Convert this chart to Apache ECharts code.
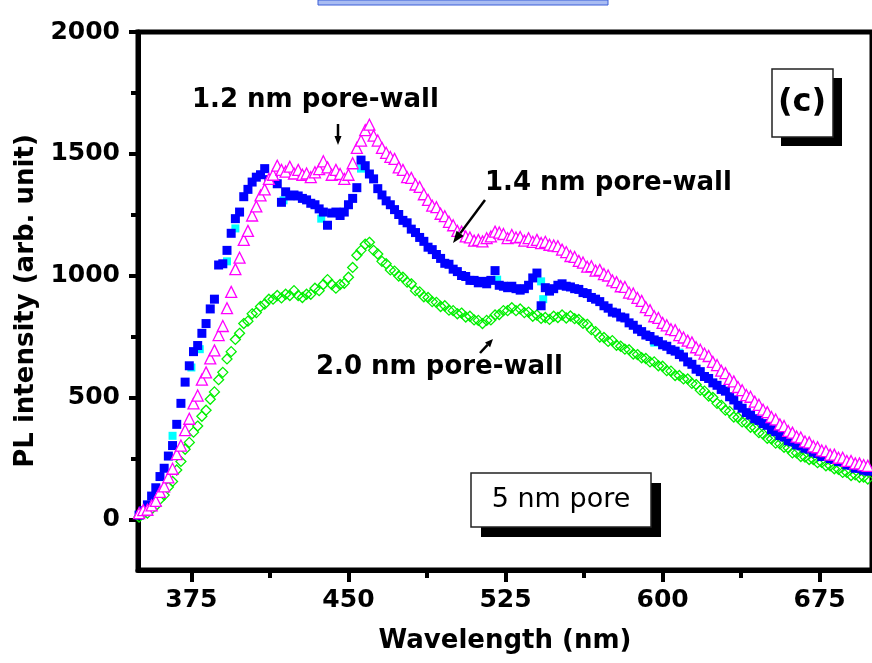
<!DOCTYPE html>
<html>
<head>
<meta charset="utf-8">
<title>PL intensity - 5 nm pore</title>
<script src="https://cdn.jsdelivr.net/npm/echarts@6/dist/echarts.min.js"></script>
<style>
  html, body { margin: 0; padding: 0; background: #fff; }
  #chart { width: 872px; height: 663px; }
</style>
</head>
<body>
<div id="chart"></div>
<script>
// sampled wavelengths (nm)
const wavelength = [
  350, 352, 354, 356, 358, 360, 362, 364, 366, 368,
  370, 372, 374, 376, 378, 380, 382, 384, 386, 388,
  390, 392, 394, 396, 398, 400, 402, 404, 406, 408,
  410, 412, 414, 416, 418, 420, 422, 424, 426, 428,
  430, 432, 434, 436, 438, 440, 442, 444, 446, 448,
  450, 452, 454, 456, 458, 460, 462, 464, 466, 468,
  470, 472, 474, 476, 478, 480, 482, 484, 486, 488,
  490, 492, 494, 496, 498, 500, 502, 504, 506, 508,
  510, 512, 514, 516, 518, 520, 522, 524, 526, 528,
  530, 532, 534, 536, 538, 540, 542, 544, 546, 548,
  550, 552, 554, 556, 558, 560, 562, 564, 566, 568,
  570, 572, 574, 576, 578, 580, 582, 584, 586, 588,
  590, 592, 594, 596, 598, 600, 602, 604, 606, 608,
  610, 612, 614, 616, 618, 620, 622, 624, 626, 628,
  630, 632, 634, 636, 638, 640, 642, 644, 646, 648,
  650, 652, 654, 656, 658, 660, 662, 664, 666, 668,
  670, 672, 674, 676, 678, 680, 682, 684, 686, 688,
  690, 692, 694, 696, 698
];

// 1.2 nm pore-wall (magenta open triangles)
const wall12 = [
  28, 40, 42, 60, 78, 115, 138, 175, 210, 270,
  305, 368, 415, 478, 510, 575, 605, 662, 695, 758,
  795, 868, 935, 1028, 1075, 1148, 1185, 1248, 1285, 1330,
  1355, 1398, 1415, 1452, 1435, 1428, 1448, 1420, 1435, 1415,
  1420, 1405, 1425, 1438, 1470, 1445, 1415, 1435, 1418, 1398,
  1415, 1462, 1525, 1555, 1598, 1620, 1575, 1555, 1525, 1505,
  1488, 1480, 1445, 1435, 1405, 1402, 1375, 1365, 1335, 1312,
  1288, 1282, 1255, 1245, 1222, 1208, 1185, 1182, 1162, 1158,
  1145, 1148, 1142, 1155, 1162, 1182, 1178, 1172, 1155, 1168,
  1158, 1160, 1145, 1155, 1140, 1148, 1135, 1140, 1128, 1125,
  1122, 1108, 1098, 1082, 1078, 1062, 1055, 1038, 1040, 1022,
  1025, 1008, 1002, 982, 975, 958, 955, 932, 928, 910,
  898, 872, 860, 835, 828, 808, 798, 782, 778, 758,
  748, 735, 728, 708, 698, 682, 672, 648, 635, 612,
  602, 578, 568, 545, 532, 512, 505, 485, 472, 452,
  442, 422, 412, 392, 385, 365, 358, 342, 338, 322,
  318, 302, 298, 285, 282, 268, 268, 255, 255, 242,
  242, 232, 232, 225, 222
];

// 1.4 nm pore-wall (blue filled squares)
const wall14 = [
  20, 38, 62, 98, 132, 178, 212, 262, 305, 392,
  478, 565, 632, 690, 715, 765, 805, 865, 905, 1045,
  1050, 1105, 1175, 1235, 1262, 1325, 1355, 1385, 1405, 1415,
  1440, 1395, 1392, 1378, 1302, 1345, 1328, 1332, 1328, 1318,
  1312, 1298, 1292, 1275, 1262, 1208, 1258, 1262, 1248, 1262,
  1292, 1318, 1362, 1475, 1452, 1418, 1398, 1358, 1332, 1308,
  1292, 1272, 1252, 1228, 1218, 1192, 1178, 1158, 1142, 1118,
  1108, 1088, 1072, 1052, 1048, 1028, 1018, 1002, 998, 982,
  982, 972, 978, 968, 982, 1022, 962, 958, 952, 958,
  948, 942, 948, 962, 992, 1012, 878, 952, 938, 948,
  962, 968, 958, 955, 948, 945, 932, 928, 912, 905,
  895, 878, 868, 852, 848, 832, 828, 808, 798, 782,
  772, 758, 752, 738, 732, 718, 712, 698, 692, 678,
  668, 648, 638, 618, 608, 588, 580, 562, 552, 535,
  528, 505, 492, 470, 458, 440, 430, 415, 408, 395,
  388, 370, 362, 346, 340, 325, 320, 308, 304, 294,
  290, 278, 272, 260, 264, 252, 248, 240, 238, 226,
  224, 212, 212, 204, 200
];

// 2.0 nm pore-wall (green open diamonds)
const wall20 = [
  12, 25, 28, 45, 58, 85, 102, 135, 158, 205,
  240, 290, 318, 360, 385, 425, 450, 495, 525, 575,
  605, 660, 690, 740, 765, 805, 815, 845, 850, 875,
  885, 905, 905, 920, 910, 925, 920, 940, 920, 912,
  925, 925, 950, 940, 965, 985, 965, 950, 965, 970,
  995, 1035, 1085, 1105, 1130, 1138, 1105, 1090, 1060, 1050,
  1025, 1020, 1000, 995, 975, 968, 940, 935, 915, 912,
  895, 892, 875, 878, 860, 858, 845, 848, 832, 835,
  820, 818, 805, 818, 820, 840, 842, 858, 858, 870,
  858, 865, 850, 852, 835, 840, 826, 830, 822, 835,
  830, 840, 828, 836, 825, 822, 806, 802, 780, 772,
  750, 748, 732, 735, 716, 712, 700, 698, 680, 678,
  665, 662, 648, 648, 632, 630, 612, 610, 592, 592,
  578, 578, 560, 555, 532, 528, 508, 502, 478, 470,
  450, 445, 422, 420, 402, 398, 380, 378, 358, 352,
  335, 332, 315, 312, 298, 295, 275, 275, 260, 258,
  248, 248, 235, 236, 222, 222, 210, 208, 195, 195,
  182, 185, 175, 176, 168
];

// few cyan squares peeking out under the blue ones
const cyanWave = [366, 375, 379, 392, 396, 419, 437, 456, 521, 542, 543, 596, 608];
const cyanValue = [345, 625, 700, 1060, 1195, 1310, 1235, 1440, 985, 978, 905, 727, 686];

const xTicks = [375, 450, 525, 600, 675];
const xMinorTicks = [412.5, 487.5, 562.5, 637.5];
const yTicks = [0, 500, 1000, 1500, 2000];
const yMinorTicks = [250, 750, 1250, 1750];

const FONT = 'DejaVu Sans';

function pairs(xs, ys) {
    return xs.map((x, i) => [x, ys[i]]);
}

function arrow(x1, y1, x2, y2, head, half) {
    const dx = x2 - x1, dy = y2 - y1;
    const len = Math.sqrt(dx * dx + dy * dy);
    const ux = dx / len, uy = dy / len;
    const bx = x2 - ux * head, by = y2 - uy * head;
    return [
        { type: 'line', z: 100, shape: { x1: x1, y1: y1, x2: bx, y2: by },
          style: { stroke: '#000', lineWidth: 2.5 } },
        { type: 'polygon', z: 100,
          shape: { points: [[x2, y2], [bx - uy * half, by + ux * half], [bx + uy * half, by - ux * half]] },
          style: { fill: '#000' } }
    ];
}

function label(text, x, y, size, weight) {
    return {
        type: 'text', z: 100, x: x, y: y,
        style: { text: text, fill: '#000', font: weight + ' ' + size + 'px "' + FONT + '"',
                 textAlign: 'left', textVerticalAlign: 'middle' }
    };
}

function shadowBox(x, y, w, h, off) {
    return [
        { type: 'rect', z: 99, shape: { x: x + off, y: y + off, width: w, height: h }, style: { fill: '#000' } },
        { type: 'rect', z: 99, shape: { x: x, y: y, width: w, height: h },
          style: { fill: '#fff', stroke: '#222', lineWidth: 1.5 } }
    ];
}

const tickLabel = {
    fontFamily: FONT, fontWeight: 'bold', fontSize: 25, color: '#000',
    formatter: (v) => String(v)
};

const chart = echarts.init(document.getElementById('chart'));

const option = {
    animation: false,
    backgroundColor: '#fff',
    grid: {
        left: 138, right: -6, top: 32, bottom: 93,
        show: true, borderColor: '#000', borderWidth: 5, backgroundColor: 'transparent'
    },
    xAxis: [
        {
            type: 'value', min: 349.5, max: 700, position: 'bottom',
            axisLine: { show: true, onZero: false, lineStyle: { color: '#000', width: 5 } },
            axisTick: { show: true, customValues: xTicks, length: 12, lineStyle: { color: '#000', width: 4 } },
            axisLabel: Object.assign({ customValues: xTicks, margin: 18 }, tickLabel),
            splitLine: { show: false },
            name: 'Wavelength (nm)', nameLocation: 'middle', nameGap: 58,
            nameTextStyle: { fontFamily: FONT, fontWeight: 'bold', fontSize: 26, color: '#000' }
        },
        {
            type: 'value', min: 349.5, max: 700, position: 'bottom',
            axisLine: { show: false, onZero: false },
            axisTick: { show: true, customValues: xMinorTicks, length: 8, lineStyle: { color: '#000', width: 4 } },
            axisLabel: { show: false },
            splitLine: { show: false }
        }
    ],
    yAxis: [
        {
            type: 'value', min: -205, max: 2000, position: 'left',
            axisLine: { show: true, onZero: false, lineStyle: { color: '#000', width: 5 } },
            axisTick: { show: true, customValues: yTicks, length: 9, lineStyle: { color: '#000', width: 4 } },
            axisLabel: Object.assign({ customValues: yTicks, margin: 18 }, tickLabel),
            splitLine: { show: false },
            name: 'PL intensity (arb. unit)', nameLocation: 'middle', nameGap: 88,
            nameTextStyle: { fontFamily: FONT, fontWeight: 'bold', fontSize: 26, color: '#000' }
        },
        {
            type: 'value', min: -205, max: 2000, position: 'left',
            axisLine: { show: false, onZero: false },
            axisTick: { show: true, customValues: yMinorTicks, length: 7, lineStyle: { color: '#000', width: 4 } },
            axisLabel: { show: false },
            splitLine: { show: false }
        }
    ],
    series: [
        {
            name: '2.0 nm pore-wall', type: 'scatter', symbol: 'diamond', symbolSize: 10,
            data: pairs(wavelength, wall20),
            itemStyle: { color: 'rgba(0,0,0,0)', borderColor: '#00f000', borderWidth: 1.3, opacity: 1 }
        },
        {
            name: 'cyan', type: 'scatter', symbol: 'rect', symbolSize: 8,
            data: pairs(cyanWave, cyanValue),
            itemStyle: { color: '#00ffff', opacity: 1 }
        },
        {
            name: '1.4 nm pore-wall', type: 'scatter', symbol: 'rect', symbolSize: 9,
            data: pairs(wavelength, wall14),
            itemStyle: { color: '#0000ff', opacity: 1 }
        },
        {
            name: '1.2 nm pore-wall', type: 'scatter', symbol: 'triangle', symbolSize: 11,
            data: pairs(wavelength, wall12),
            itemStyle: { color: '#fff', borderColor: '#ff00ff', borderWidth: 1.3, opacity: 1 }
        }
    ],
    graphic: [
        { type: 'rect', z: 100, shape: { x: 318, y: 0, width: 290, height: 5 },
          style: { fill: '#a9bcf2', stroke: '#3b5fd8', lineWidth: 1 } },
        label('1.2 nm pore-wall', 192, 100, 26, 'bold'),
        label('1.4 nm pore-wall', 485, 183, 26, 'bold'),
        label('2.0 nm pore-wall', 316, 367, 26, 'bold'),
        ...arrow(338, 124, 338, 145, 9, 3.5),
        ...arrow(485, 200, 453, 243, 12, 4.5),
        ...arrow(480, 353, 493, 339, 8, 3.5),
        ...shadowBox(772, 69, 61, 68, 9),
        {
            type: 'text', z: 100, x: 802, y: 103,
            style: { text: '(c)', fill: '#000', font: 'bold 32px "' + FONT + '"',
                     textAlign: 'center', textVerticalAlign: 'middle' }
        },
        ...shadowBox(471, 473, 180, 54, 10),
        {
            type: 'text', z: 100, x: 561, y: 500,
            style: { text: '5 nm pore', fill: '#000', font: 'normal 27px "' + FONT + '"',
                     textAlign: 'center', textVerticalAlign: 'middle' }
        }
    ]
};

chart.setOption(option);
</script>
</body>
</html>
